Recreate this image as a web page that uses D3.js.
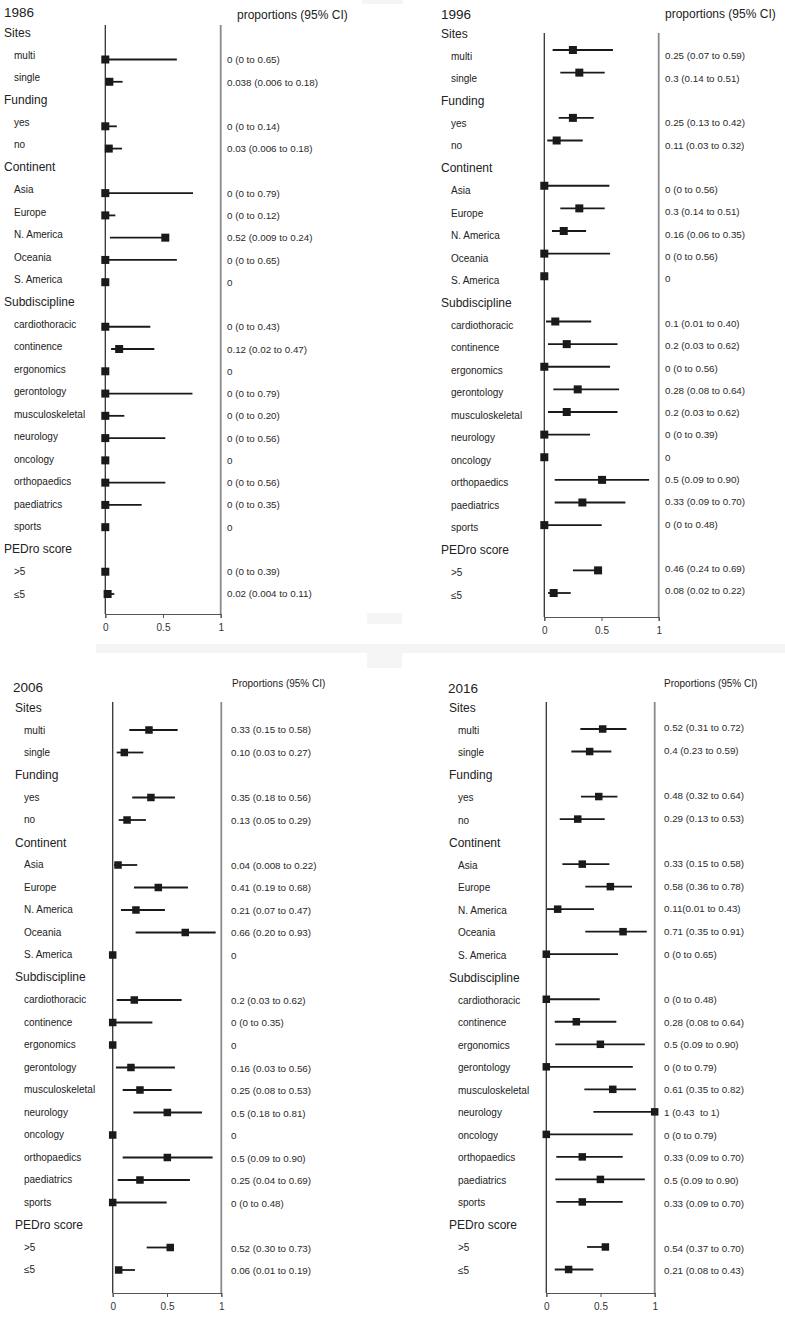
<!DOCTYPE html>
<html><head><meta charset="utf-8">
<script src="https://cdn.jsdelivr.net/npm/d3@7"></script>
<style>
html,body{margin:0;padding:0;background:#fff;}
svg{display:block;}
text{font-family:"Liberation Sans",Arial,Helvetica,sans-serif;white-space:pre;}
</style></head>
<body>
<script>
// ---- data ----
const rowLabels = ["Sites","multi","single","Funding","yes","no","Continent","Asia","Europe","N. America","Oceania","S. America","Subdiscipline","cardiothoracic","continence","ergonomics","gerontology","musculoskeletal","neurology","oncology","orthopaedics","paediatrics","sports","PEDro score",">5","≤5"];
const groupLabels = ["Sites","Funding","Continent","Subdiscipline","PEDro score"];
const years = ["1986","1996","2006","2016"];
const ciHeaders = ["proportions (95% CI)","proportions (95% CI)","Proportions (95% CI)","Proportions (95% CI)"];
const tickValues = [0, 0.5, 1];
const tickLabels = ["0","0.5","1"];

const est1986 = [0, 0.035, 0, 0.03, 0, 0, 0.52, 0, 0, 0, 0.12, 0, 0, 0, 0, 0, 0, 0, 0, 0, 0.02];
const lo1986  = [0, 0.006, 0, 0.006, 0, 0, 0.04, 0, 0, 0, 0.05, 0, 0, 0, 0, 0, 0, 0, 0, 0, 0.004];
const hi1986  = [0.62, 0.15, 0.10, 0.145, 0.76, 0.087, 0.52, 0.62, 0, 0.39, 0.425, 0, 0.755, 0.165, 0.52, 0, 0.52, 0.315, 0, 0, 0.078];
const ci1986  = ["0 (0 to 0.65)","0.038 (0.006 to 0.18)","0 (0 to 0.14)","0.03 (0.006 to 0.18)","0 (0 to 0.79)","0 (0 to 0.12)","0.52 (0.009 to 0.24)","0 (0 to 0.65)","0","0 (0 to 0.43)","0.12 (0.02 to 0.47)","0","0 (0 to 0.79)","0 (0 to 0.20)","0 (0 to 0.56)","0","0 (0 to 0.56)","0 (0 to 0.35)","0","0 (0 to 0.39)","0.02 (0.004 to 0.11)"];

const est1996 = [0.25, 0.306, 0.25, 0.108, 0, 0.306, 0.17, 0, 0, 0.096, 0.196, 0, 0.292, 0.196, 0, 0, 0.505, 0.333, 0, 0.47, 0.082];
const lo1996  = [0.073, 0.14, 0.126, 0.026, 0, 0.14, 0.067, 0, 0, 0.015, 0.032, 0, 0.079, 0.032, 0, 0, 0.091, 0.091, 0, 0.251, 0.032];
const hi1996  = [0.60, 0.528, 0.432, 0.336, 0.569, 0.528, 0.365, 0.575, 0, 0.41, 0.64, 0.575, 0.654, 0.64, 0.40, 0, 0.916, 0.709, 0.502, 0.47, 0.231];
const ci1996  = ["0.25 (0.07 to 0.59)","0.3 (0.14 to 0.51)","0.25 (0.13 to 0.42)","0.11 (0.03 to 0.32)","0 (0 to 0.56)","0.3 (0.14 to 0.51)","0.16 (0.06 to 0.35)","0 (0 to 0.56)","0","0.1 (0.01 to 0.40)","0.2 (0.03 to 0.62)","0 (0 to 0.56)","0.28 (0.08 to 0.64)","0.2 (0.03 to 0.62)","0 (0 to 0.39)","0","0.5 (0.09 to 0.90)","0.33 (0.09 to 0.70)","0 (0 to 0.48)","0.46 (0.24 to 0.69)","0.08 (0.02 to 0.22)"];

const est2006 = [0.334, 0.107, 0.352, 0.132, 0.049, 0.42, 0.214, 0.668, 0, 0.199, 0, 0, 0.168, 0.251, 0.503, 0, 0.503, 0.251, 0, 0.53, 0.055];
const lo2006  = [0.153, 0.037, 0.18, 0.055, 0.012, 0.196, 0.076, 0.211, 0, 0.037, 0, 0, 0.03, 0.092, 0.19, 0, 0.092, 0.046, 0, 0.313, 0.025];
const hi2006  = [0.598, 0.282, 0.573, 0.306, 0.226, 0.693, 0.481, 0.948, 0, 0.635, 0.365, 0, 0.573, 0.543, 0.822, 0, 0.92, 0.711, 0.497, 0.53, 0.205];
const ci2006  = ["0.33 (0.15 to 0.58)","0.10 (0.03 to 0.27)","0.35 (0.18 to 0.56)","0.13 (0.05 to 0.29)","0.04 (0.008 to 0.22)","0.41 (0.19 to 0.68)","0.21 (0.07 to 0.47)","0.66 (0.20 to 0.93)","0","0.2 (0.03 to 0.62)","0 (0 to 0.35)","0","0.16 (0.03 to 0.56)","0.25 (0.08 to 0.53)","0.5 (0.18 to 0.81)","0","0.5 (0.09 to 0.90)","0.25 (0.04 to 0.69)","0 (0 to 0.48)","0.52 (0.30 to 0.73)","0.06 (0.01 to 0.19)"];

const est2016 = [0.52, 0.40, 0.484, 0.29, 0.332, 0.591, 0.105, 0.708, 0, 0, 0.277, 0.499, 0, 0.613, 1.0, 0, 0.332, 0.499, 0.332, 0.545, 0.206];
const lo2016  = [0.314, 0.231, 0.32, 0.124, 0.148, 0.36, 0.006, 0.36, 0, 0, 0.078, 0.083, 0, 0.351, 0.434, 0, 0.092, 0.083, 0.092, 0.376, 0.078];
const hi2016  = [0.739, 0.60, 0.656, 0.539, 0.582, 0.791, 0.44, 0.927, 0.662, 0.493, 0.646, 0.909, 0.798, 0.828, 1.0, 0.798, 0.705, 0.909, 0.705, 0.545, 0.434];
const ci2016  = ["0.52 (0.31 to 0.72)","0.4 (0.23 to 0.59)","0.48 (0.32 to 0.64)","0.29 (0.13 to 0.53)","0.33 (0.15 to 0.58)","0.58 (0.36 to 0.78)","0.11(0.01 to 0.43)","0.71 (0.35 to 0.91)","0 (0 to 0.65)","0 (0 to 0.48)","0.28 (0.08 to 0.64)","0.5 (0.09 to 0.90)","0 (0 to 0.79)","0.61 (0.35 to 0.82)","1 (0.43  to 1)","0 (0 to 0.79)","0.33 (0.09 to 0.70)","0.5 (0.09 to 0.90)","0.33 (0.09 to 0.70)","0.54 (0.37 to 0.70)","0.21 (0.08 to 0.43)"];

const series = [
  {est: est1986, lo: lo1986, hi: hi1986, ci: ci1986},
  {est: est1996, lo: lo1996, hi: hi1996, ci: ci1996},
  {est: est2006, lo: lo2006, hi: hi2006, ci: ci2006},
  {est: est2016, lo: lo2016, hi: hi2016, ci: ci2016}
];

// ---- layout (per panel) ----
const layout = [
  {x0:105.3, x1:220.7, top:25, axisY:614, titleX:4, titleY:12, hdrX:237, hdrY:14.5, hdrSize:12, groupX:4, itemX:14, valX:227, lab:[55,594], mark:[59.5,594], val:[60,594], sq:8},
  {x0:544.3, x1:658.7, top:33, axisY:617, titleX:441, titleY:14, hdrX:665, hdrY:14, hdrSize:12, groupX:441, itemX:451, valX:665, lab:[56,595], mark:[50,593], val:[56,591], sq:8},
  {x0:112.7, x1:221.3, top:702, axisY:1293, titleX:13, titleY:687, hdrX:232, hdrY:683, hdrSize:10, groupX:15, itemX:24, valX:231, lab:[730,1269.5], mark:[730,1270], val:[730,1271], sq:7.5},
  {x0:546.3, x1:654.7, top:702, axisY:1293, titleX:448, titleY:688, hdrX:664, hdrY:683, hdrSize:10, groupX:449, itemX:458, valX:664, lab:[730,1270], mark:[729,1269.5], val:[728,1271], sq:7.5}
];

const W = 785, H = 1318;
const svg = d3.select("body").append("svg").attr("width", W).attr("height", H);
svg.append("rect").attr("width", W).attr("height", H).attr("fill", "#fff");

// faint scan artefacts
[[96,644,689,9],[367,613,35,11],[367,653,35,15],[362,0,41,4]].forEach(r=>{
  svg.append("rect").attr("x",r[0]).attr("y",r[1]).attr("width",r[2]).attr("height",r[3]).attr("fill","#f5f5f5");
});

const itemRows = rowLabels.map((d,i)=>({label:d,i})).filter(d=>!groupLabels.includes(d.label));

layout.forEach((L, p) => {
  const s = series[p];
  const g = svg.append("g");
  const x = d3.scaleLinear().domain([0,1]).range([L.x0, L.x1]);
  const yLab = d3.scaleLinear().domain([1,25]).range(L.lab);
  const yMark = d3.scaleLinear().domain([1,25]).range(L.mark);
  const yVal = d3.scaleLinear().domain([1,25]).range(L.val);

  // title & CI header
  g.append("text").attr("x", L.titleX).attr("y", L.titleY).attr("dy","0.35em")
    .attr("font-size", 13.5).attr("fill","#222").text(years[p]);
  g.append("text").attr("x", L.hdrX).attr("y", L.hdrY).attr("dy","0.35em")
    .attr("font-size", L.hdrSize).attr("fill","#222").text(ciHeaders[p]);

  // row labels
  g.selectAll("text.row").data(rowLabels.map((d,i)=>({label:d,i}))).join("text")
    .attr("class","row")
    .attr("x", d => groupLabels.includes(d.label) ? L.groupX : L.itemX)
    .attr("y", d => yLab(d.i))
    .attr("dy","0.35em")
    .attr("font-size", d => groupLabels.includes(d.label) ? 12 : 10)
    .attr("fill","#222")
    .text(d => d.label);

  // vertical reference lines
  g.append("line").attr("x1", x(0)).attr("x2", x(0)).attr("y1", L.top).attr("y2", L.axisY)
    .attr("stroke","#333").attr("stroke-width",1.3);
  g.append("line").attr("x1", x(1)).attr("x2", x(1)).attr("y1", L.top).attr("y2", L.axisY)
    .attr("stroke","#8a8a8a").attr("stroke-width",1.8);

  // axis
  const ax = g.append("g").attr("transform", `translate(0,${L.axisY})`)
    .call(d3.axisBottom(x).tickValues(tickValues).tickFormat((d,i)=>tickLabels[i]).tickSize(4).tickPadding(6));
  ax.select(".domain").attr("stroke","#555").attr("stroke-width",1.2);
  ax.selectAll(".tick line").attr("stroke","#555").attr("stroke-width",1);
  ax.selectAll(".tick text").attr("font-size",10).attr("fill","#333")
    .attr("font-family","Liberation Sans, Arial, sans-serif");

  // CI lines
  g.selectAll("line.ci").data(itemRows.map((r,k)=>({r,k}))).join("line")
    .attr("class","ci")
    .attr("x1", d => x(s.lo[d.k])).attr("x2", d => x(s.hi[d.k]))
    .attr("y1", d => yMark(d.r.i)).attr("y2", d => yMark(d.r.i))
    .attr("stroke","#1a1a1a").attr("stroke-width",1.8);

  // point estimates
  g.selectAll("rect.pt").data(itemRows.map((r,k)=>({r,k}))).join("rect")
    .attr("class","pt")
    .attr("x", d => x(s.est[d.k]) - L.sq/2)
    .attr("y", d => yMark(d.r.i) - L.sq/2)
    .attr("width", L.sq).attr("height", L.sq)
    .attr("fill","#1a1a1a");

  // value text
  g.selectAll("text.val").data(itemRows.map((r,k)=>({r,k}))).join("text")
    .attr("class","val")
    .attr("x", L.valX).attr("y", d => yVal(d.r.i)).attr("dy","0.35em")
    .attr("font-size", 9.8).attr("fill","#2a2a2a")
    .text(d => s.ci[d.k]);
});
</script>
</body></html>
